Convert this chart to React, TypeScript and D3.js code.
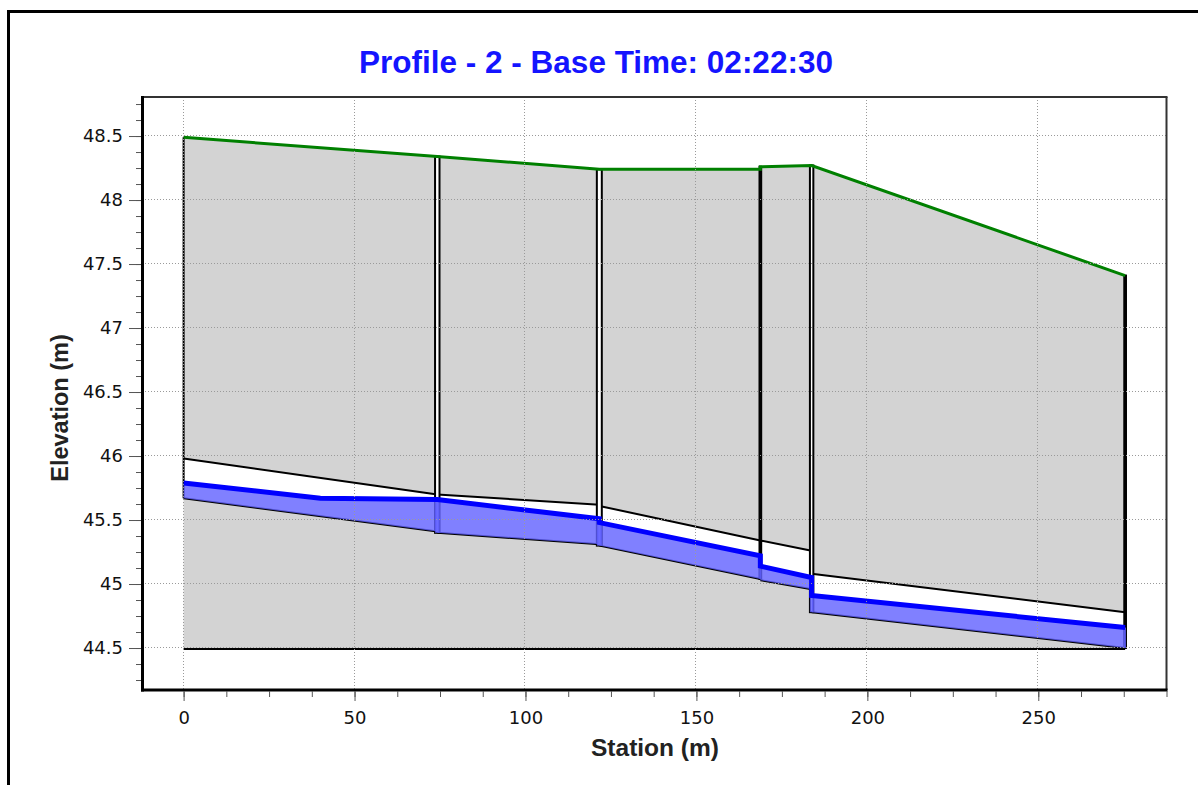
import React, { useEffect, useRef } from 'react'
import * as d3 from 'd3'

// manholes along the profile
const nodeStation = [0, 74.2, 121.6, 168.7, 183.7, 275.4]
const nodeWidth = [0, 1.3, 1.45, 0.5, 1.0, 0.5]
const nodeInvert = [45.67, 45.40, 45.30, 45.04, 44.78, 44.50]
const nodeTop = [48.49, 48.34, 48.24, 48.26, 48.27, 47.41]

// conduits between the manholes
const linkFrom = [0, 74.2, 121.6, 168.7, 183.7]
const linkTo = [74.2, 121.6, 168.7, 183.7, 275.4]
const crownStart = [45.98, 45.70, 45.61, 45.34, 45.08]
const crownEnd = [45.70, 45.62, 45.34, 45.26, 44.78]
const invertStart = [45.67, 45.40, 45.30, 45.03, 44.78]
const invertEnd = [45.41, 45.31, 45.04, 44.96, 44.50]

// ground surface
const groundStation = [0, 74.2, 121.6, 168.7, 168.7, 183.7, 275.4]
const groundElev = [48.49, 48.34, 48.24, 48.24, 48.26, 48.27, 47.41]

// water surface at base time
const waterStation = [0, 40, 74.2, 121.6, 121.6, 168.7, 168.7, 183.7, 183.7, 275.4]
const waterElev = [45.79, 45.67, 45.66, 45.51, 45.48, 45.22, 45.14, 45.05, 44.91, 44.66]

const baseElev = 44.5
const xTicks = [0, 50, 100, 150, 200, 250]
const yTicks = [44.5, 45, 45.5, 46, 46.5, 47, 47.5, 48, 48.5]

const W = 1198
const H = 785

function App() {
  const ref = useRef<SVGSVGElement>(null)

  useEffect(() => {
    const svg = d3.select(ref.current)
    svg.selectAll('*').remove()

    const left = 142, right = 1166.5, top = 97, bottom = 690
    const x = d3.scaleLinear().domain([-12.17, 287.5]).range([left, right])
    const y = d3.scaleLinear().domain([44.172, 48.805]).range([bottom, top])

    // outer frame (cut off at right and bottom)
    svg.append('line').attr('x1', 7).attr('x2', W).attr('y1', 11.5).attr('y2', 11.5)
      .attr('stroke', '#000').attr('stroke-width', 3)
    svg.append('line').attr('x1', 8.5).attr('x2', 8.5).attr('y1', 10).attr('y2', H)
      .attr('stroke', '#000').attr('stroke-width', 3)

    // title
    svg.append('text')
      .attr('x', 596).attr('y', 73)
      .attr('text-anchor', 'middle')
      .attr('font-family', '"Liberation Sans", Arial, sans-serif')
      .attr('font-weight', 'bold')
      .attr('font-size', 31.5)
      .attr('fill', '#1414ff')
      .text('Profile - 2 - Base Time: 02:22:30')

    svg.append('defs').append('clipPath').attr('id', 'plot-clip')
      .append('rect').attr('x', left).attr('y', top).attr('width', right - left).attr('height', bottom - top)

    const g = svg.append('g').attr('clip-path', 'url(#plot-clip)')

    // ground body
    const groundPts: [number, number][] = groundStation.map((s, i) => [x(s), y(groundElev[i])])
    const groundArea = [[x(groundStation[0]), y(baseElev)], ...groundPts,
      [x(groundStation[groundStation.length - 1]), y(baseElev)]]
    g.append('polygon')
      .attr('points', groundArea.map(p => p.join(',')).join(' '))
      .attr('fill', '#d3d3d3')

    // conduit interiors
    linkFrom.forEach((s0, i) => {
      const s1 = linkTo[i]
      const pts = [[x(s0), y(crownStart[i])], [x(s1), y(crownEnd[i])],
        [x(s1), y(invertEnd[i])], [x(s0), y(invertStart[i])]]
      g.append('polygon').attr('points', pts.map(p => p.join(',')).join(' ')).attr('fill', '#fff')
    })
    // crown and invert lines
    linkFrom.forEach((s0, i) => {
      const s1 = linkTo[i]
      g.append('line').attr('x1', x(s0)).attr('x2', x(s1))
        .attr('y1', y(crownStart[i])).attr('y2', y(crownEnd[i]))
        .attr('stroke', '#000').attr('stroke-width', 2)
      g.append('line').attr('x1', x(s0)).attr('x2', x(s1))
        .attr('y1', y(invertStart[i])).attr('y2', y(invertEnd[i]))
        .attr('stroke', '#000').attr('stroke-width', 2)
    })

    // manholes
    nodeStation.forEach((s, i) => {
      if (nodeWidth[i] === 0) {
        g.append('line').attr('x1', x(s)).attr('x2', x(s))
          .attr('y1', y(nodeTop[i])).attr('y2', y(nodeInvert[i]))
          .attr('stroke', '#000').attr('stroke-width', 2)
      } else {
        const x0 = x(s - nodeWidth[i] / 2), x1 = x(s + nodeWidth[i] / 2)
        g.append('rect').attr('x', x0).attr('width', x1 - x0)
          .attr('y', y(nodeTop[i])).attr('height', y(nodeInvert[i]) - y(nodeTop[i]))
          .attr('fill', '#fff').attr('stroke', '#000').attr('stroke-width', 2)
      }
    })

    // water in conduits
    const waterPts = waterStation.map((s, i) => ({ s, e: waterElev[i] }))
    linkFrom.forEach((s0, i) => {
      const s1 = linkTo[i]
      const startPt = waterPts.filter(p => p.s === s0).slice(-1)
      const inner = waterPts.filter(p => p.s > s0 && p.s < s1)
      const endPt = waterPts.filter(p => p.s === s1).slice(0, 1)
      const top = [...startPt, ...inner, ...endPt].map(p => [x(p.s), y(p.e)])
      const pts = [...top, [x(s1), y(invertEnd[i])], [x(s0), y(invertStart[i])]]
      g.append('polygon').attr('points', pts.map(p => p.join(',')).join(' '))
        .attr('fill', '#6060ff').attr('fill-opacity', 0.8)
    })
    // water in manholes
    nodeStation.forEach((s, i) => {
      if (nodeWidth[i] === 0) return
      const level = d3.max(waterPts.filter(p => p.s === s), p => p.e) as number
      const x0 = x(s - nodeWidth[i] / 2), x1 = x(s + nodeWidth[i] / 2)
      g.append('rect').attr('x', x0).attr('width', x1 - x0)
        .attr('y', y(level)).attr('height', y(nodeInvert[i]) - y(level))
        .attr('fill', '#6060ff').attr('fill-opacity', 0.8)
    })

    // datum line
    g.append('line')
      .attr('x1', x(groundStation[0])).attr('x2', x(groundStation[groundStation.length - 1]))
      .attr('y1', y(baseElev) + 1).attr('y2', y(baseElev) + 1)
      .attr('stroke', '#000').attr('stroke-width', 2)

    // ground line
    g.append('path')
      .attr('d', d3.line()(groundPts))
      .attr('fill', 'none').attr('stroke', '#008000').attr('stroke-width', 3)

    // water surface line
    g.append('path')
      .attr('d', d3.line()(waterPts.map(p => [x(p.s), y(p.e)] as [number, number])))
      .attr('fill', 'none').attr('stroke', '#0000ff').attr('stroke-width', 5)

    // dotted grid on top
    g.selectAll('.vgrid').data(xTicks).enter().append('line')
      .attr('x1', d => Math.round(x(d)) - 0.5).attr('x2', d => Math.round(x(d)) - 0.5)
      .attr('y1', top).attr('y2', bottom)
      .attr('stroke', '#9a9a9a').attr('stroke-dasharray', '1,2')
    g.selectAll('.hgrid').data(yTicks).enter().append('line')
      .attr('y1', d => Math.floor(y(d)) - 0.5).attr('y2', d => Math.floor(y(d)) - 0.5)
      .attr('x1', left).attr('x2', right)
      .attr('stroke', '#9a9a9a').attr('stroke-dasharray', '1,2')

    // plot frame
    svg.append('line').attr('x1', left).attr('x2', right + 1).attr('y1', top).attr('y2', top)
      .attr('stroke', '#333').attr('stroke-width', 2)
    svg.append('line').attr('x1', right).attr('x2', right).attr('y1', top).attr('y2', bottom)
      .attr('stroke', '#333').attr('stroke-width', 2)
    svg.append('line').attr('x1', left + 0.5).attr('x2', left + 0.5).attr('y1', top - 1).attr('y2', bottom + 1.5)
      .attr('stroke', '#000').attr('stroke-width', 3)
    svg.append('line').attr('x1', left - 1).attr('x2', right + 1).attr('y1', bottom).attr('y2', bottom)
      .attr('stroke', '#000').attr('stroke-width', 3)

    const tickFont = '"DejaVu Sans", Verdana, sans-serif'

    // y axis
    const yMinor = d3.range(44.25, 48.81, 0.125)
    const yMinorAxis = svg.append('g').attr('transform', `translate(${left - 1},0)`)
      .call(d3.axisLeft(y).tickValues(yMinor).tickSize(5).tickFormat(() => ''))
    const yAxis = svg.append('g').attr('transform', `translate(${left - 1},0)`)
      .call(d3.axisLeft(y).tickValues(yTicks).tickSize(12).tickPadding(6).tickFormat(d => String(d)))
    ;[yMinorAxis, yAxis].forEach(a => {
      a.select('.domain').remove()
      a.selectAll('line').attr('stroke', '#555')
    })
    yAxis.selectAll('text').attr('font-family', tickFont).attr('font-size', 18).attr('fill', '#111')

    // x axis
    const xMinor = d3.range(0, 287.6, 12.5)
    const xMinorAxis = svg.append('g').attr('transform', `translate(0,${bottom + 1})`)
      .call(d3.axisBottom(x).tickValues(xMinor).tickSize(6).tickFormat(() => ''))
    const xAxis = svg.append('g').attr('transform', `translate(0,${bottom + 1})`)
      .call(d3.axisBottom(x).tickValues(xTicks).tickSize(10).tickPadding(10).tickFormat(d => String(d)))
    ;[xMinorAxis, xAxis].forEach(a => {
      a.select('.domain').remove()
      a.selectAll('line').attr('stroke', '#555')
    })
    xAxis.selectAll('text').attr('font-family', tickFont).attr('font-size', 18).attr('fill', '#111')

    // axis titles
    svg.append('text')
      .attr('x', 655).attr('y', 756)
      .attr('text-anchor', 'middle')
      .attr('font-family', '"Liberation Sans", Arial, sans-serif')
      .attr('font-weight', 'bold').attr('font-size', 24.5).attr('fill', '#222')
      .text('Station (m)')
    svg.append('text')
      .attr('transform', 'translate(68,408) rotate(-90)')
      .attr('text-anchor', 'middle')
      .attr('font-family', '"Liberation Sans", Arial, sans-serif')
      .attr('font-weight', 'bold').attr('font-size', 23.5).attr('fill', '#222')
      .text('Elevation (m)')
  }, [])

  return (
    <svg ref={ref} width={W} height={H}
      style={{ position: 'absolute', left: 0, top: 0, background: '#fff' }} />
  )
}

export default App
